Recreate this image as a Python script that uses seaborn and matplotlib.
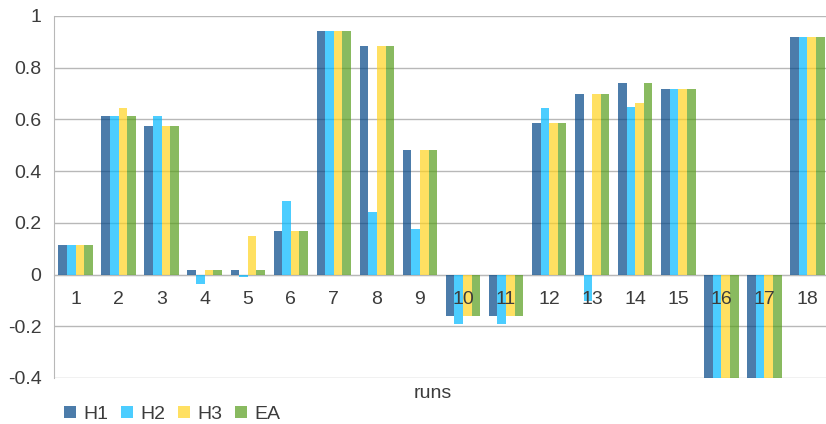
import matplotlib
matplotlib.use("Agg")
import matplotlib.pyplot as plt
import matplotlib.ticker as mticker
from matplotlib.lines import Line2D
import seaborn as sns
import pandas as pd

# Run labels and per-heuristic scores
runs = [str(i) for i in range(1, 19)]
series = ["H1", "H2", "H3", "EA"]
h1 = [0.115, 0.612, 0.573, 0.017, 0.017, 0.167, 0.941, 0.885, 0.483,
      -0.161, -0.161, 0.588, 0.700, 0.740, 0.719, -0.4, -0.4, 0.918]
h2 = [0.115, 0.612, 0.612, -0.036, -0.009, 0.285, 0.941, 0.242, 0.176,
      -0.192, -0.192, 0.645, -0.103, 0.650, 0.719, -0.4, -0.4, 0.918]
h3 = [0.115, 0.643, 0.573, 0.017, 0.148, 0.167, 0.941, 0.885, 0.483,
      -0.161, -0.161, 0.588, 0.700, 0.663, 0.719, -0.4, -0.4, 0.918]
ea = [0.115, 0.612, 0.573, 0.017, 0.017, 0.167, 0.941, 0.885, 0.483,
      -0.161, -0.161, 0.588, 0.700, 0.740, 0.719, -0.4, -0.4, 0.918]
y_ticks = [1, 0.8, 0.6, 0.4, 0.2, 0, -0.2, -0.4]

colors = ["#004586", "#00b8ff", "#ffd320", "#579d1c"]
grid_col = "#b8b8b8"
text_col = "#3c3c3c"
fs = 14

df = pd.DataFrame({
    "run": runs * 4,
    "series": [s for s in series for _ in runs],
    "value": h1 + h2 + h3 + ea,
})

sns.set_style("white")
plt.rcParams["font.family"] = ["Liberation Sans", "DejaVu Sans"]

W, H = 826, 424
fig = plt.figure(figsize=(W / 100, H / 100), dpi=100)
left, right, top, bottom = 54, 829, 16, 378
ax = fig.add_axes([left / W, 1 - bottom / H, (right - left) / W, (bottom - top) / H])

sns.barplot(data=df, x="run", y="value", hue="series", order=runs,
            hue_order=series, palette=colors, saturation=1, width=0.8,
            alpha=0.7, linewidth=0, ax=ax, legend=False, zorder=2)

ax.set_ylim(-0.4, 1)
ax.set_xlim(-0.5, len(runs) - 0.5)

# horizontal gridlines behind the bars
for t in y_ticks:
    ax.axhline(t, color=grid_col, lw=1, zorder=0)

ax.set_yticks(y_ticks)
ax.yaxis.set_major_formatter(mticker.FuncFormatter(lambda v, p: f"{v:g}"))
ax.tick_params(axis="y", length=6, width=1, color=grid_col, labelsize=fs,
               labelcolor=text_col, pad=3)

# category axis sits on the zero line, its labels drawn over the bars
for s in ["top", "right"]:
    ax.spines[s].set_visible(False)
ax.spines["left"].set_color(grid_col)
ax.spines["bottom"].set_color(grid_col)
ax.spines["bottom"].set_position(("data", 0))
ax.spines["bottom"].set_zorder(1)
ax.xaxis.set_zorder(3)
ax.set_xticks(range(len(runs)))
ax.set_xticklabels(runs)
ax.set_xticks([i + 0.5 for i in range(len(runs) - 1)], minor=True)
ax.tick_params(axis="x", which="major", length=0, pad=12, labelsize=fs,
               labelcolor=text_col)
ax.tick_params(axis="x", which="minor", length=5, width=1, color=grid_col,
               direction="out")
ax.set_xlabel("")
ax.set_ylabel("")

fig.text(433 / W, 1 - 393 / H, "runs", ha="center", va="center",
         fontsize=fs, color=text_col)

handles = [Line2D([], [], linestyle="", marker="s", markersize=8.6,
                  markerfacecolor=c, markeredgewidth=0, alpha=0.7)
           for c in colors]
fig.legend(handles, series, loc="lower left",
           bbox_to_anchor=(64 / W, 1 / H), ncol=4, frameon=False,
           fontsize=fs, handlelength=0.62, handletextpad=0.36,
           columnspacing=0.67, borderpad=0, borderaxespad=0,
           labelcolor=text_col)

fig.savefig("out.png", dpi=100)
